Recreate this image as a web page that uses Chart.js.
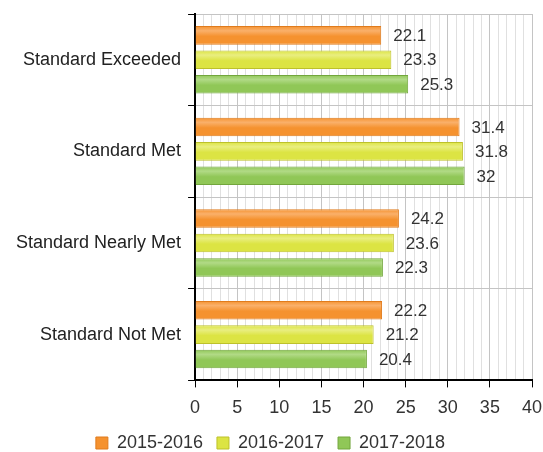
<!DOCTYPE html>
<html>
<head>
<meta charset="utf-8">
<script src="https://cdn.jsdelivr.net/npm/chart.js@4/dist/chart.umd.min.js"></script>
<style>
  html, body { margin: 0; padding: 0; background: #fff; }
  #wrap { width: 543px; height: 452px; position: relative; }
</style>
</head>
<body>
<div id="wrap"><canvas id="myChart"></canvas></div>
<script>
// chart data
const categories = ['Standard Exceeded', 'Standard Met', 'Standard Nearly Met', 'Standard Not Met'];
const years = ['2015-2016', '2016-2017', '2017-2018'];
const values2015 = [22.1, 31.4, 24.2, 22.2];
const values2016 = [23.3, 31.8, 23.6, 21.2];
const values2017 = [25.3, 32, 22.3, 20.4];

const fills = ['#f5922f', '#dce443', '#90c757'];
const lights = ['#fab06a', '#e9ee80', '#b1da86'];
const borders = ['#e07b1c', '#bdc12a', '#72a63c'];
const FONT = '"Liberation Sans", Arial, sans-serif';

// glossy look: vertical gradient on every bar
const barGloss = {
    id: 'barGloss',
    beforeDatasetsDraw(chart) {
        const ctx = chart.ctx;
        chart.data.datasets.forEach((ds, i) => {
            chart.getDatasetMeta(i).data.forEach((bar) => {
                const h = bar.height;
                const g = ctx.createLinearGradient(0, bar.y - h / 2, 0, bar.y + h / 2);
                g.addColorStop(0, fills[i]);
                g.addColorStop(0.25, lights[i]);
                g.addColorStop(0.55, fills[i]);
                g.addColorStop(1, fills[i]);
                bar.options = Object.assign({}, bar.options, { backgroundColor: g });
            });
        });
    }
};

// draws the value next to each bar end
const valueLabels = {
    id: 'valueLabels',
    afterDatasetsDraw(chart) {
        const ctx = chart.ctx;
        ctx.save();
        ctx.font = '17px ' + FONT;
        ctx.fillStyle = '#333';
        ctx.textBaseline = 'middle';
        chart.data.datasets.forEach((ds, i) => {
            chart.getDatasetMeta(i).data.forEach((bar, j) => {
                ctx.fillText(String(ds.data[j]), bar.x + 12, bar.y + 1);
            });
        });
        ctx.restore();
    }
};

const seriesValues = [values2015, values2016, values2017];

const data = {
    labels: categories,
    datasets: years.map((y, i) => ({
        label: y,
        data: seriesValues[i],
        backgroundColor: fills[i],
        borderColor: borders[i],
        borderWidth: 1,
        categoryPercentage: 0.8,
        barPercentage: 0.76,
    })),
};

const config = {
    type: 'bar',
    data: data,
    options: {
        indexAxis: 'y',
        responsive: true,
        maintainAspectRatio: false,
        animation: false,
        layout: { padding: { top: 14, right: 11, left: 9, bottom: -10 } },
        scales: {
            x: {
                min: 0,
                max: 40,
                ticks: {
                    stepSize: 1,
                    autoSkip: false,
                    maxRotation: 0,
                    color: '#333',
                    font: { size: 18, family: FONT },
                    callback: (v) => (v % 5 === 0 ? v : ''),
                    padding: 10,
                },
                grid: {
                    color: (c) => (c.tick && c.tick.value % 5 === 0 ? '#c4c4c4' : '#e0e0e0'),
                    tickColor: (c) => (c.tick && c.tick.value % 5 === 0 ? '#000' : 'rgba(0,0,0,0)'),
                    tickLength: 7,
                },
                border: { color: '#000', width: 2 },
                afterFit: (scale) => {
                    scale.paddingRight = 0;
                    scale.paddingLeft = 0;
                    scale.height -= 9;
                },
            },
            y: {
                ticks: {
                    color: '#222',
                    font: { size: 18, family: FONT },
                    padding: 7,
                },
                grid: {
                    offset: true,
                    color: '#c4c4c4',
                    tickColor: '#000',
                    tickLength: 7,
                },
                border: { color: '#000', width: 2 },
                afterFit: (scale) => { scale.paddingTop = 0; scale.paddingBottom = 0; },
            },
        },
        plugins: {
            legend: {
                position: 'bottom',
                labels: {
                    boxWidth: 12,
                    boxHeight: 12,
                    padding: 14,
                    color: '#333',
                    font: { size: 18, family: FONT },
                },
            },
            tooltip: { enabled: false },
        },
    },
    plugins: [barGloss, valueLabels],
};

new Chart(document.getElementById('myChart'), config);
</script>
</body>
</html>
